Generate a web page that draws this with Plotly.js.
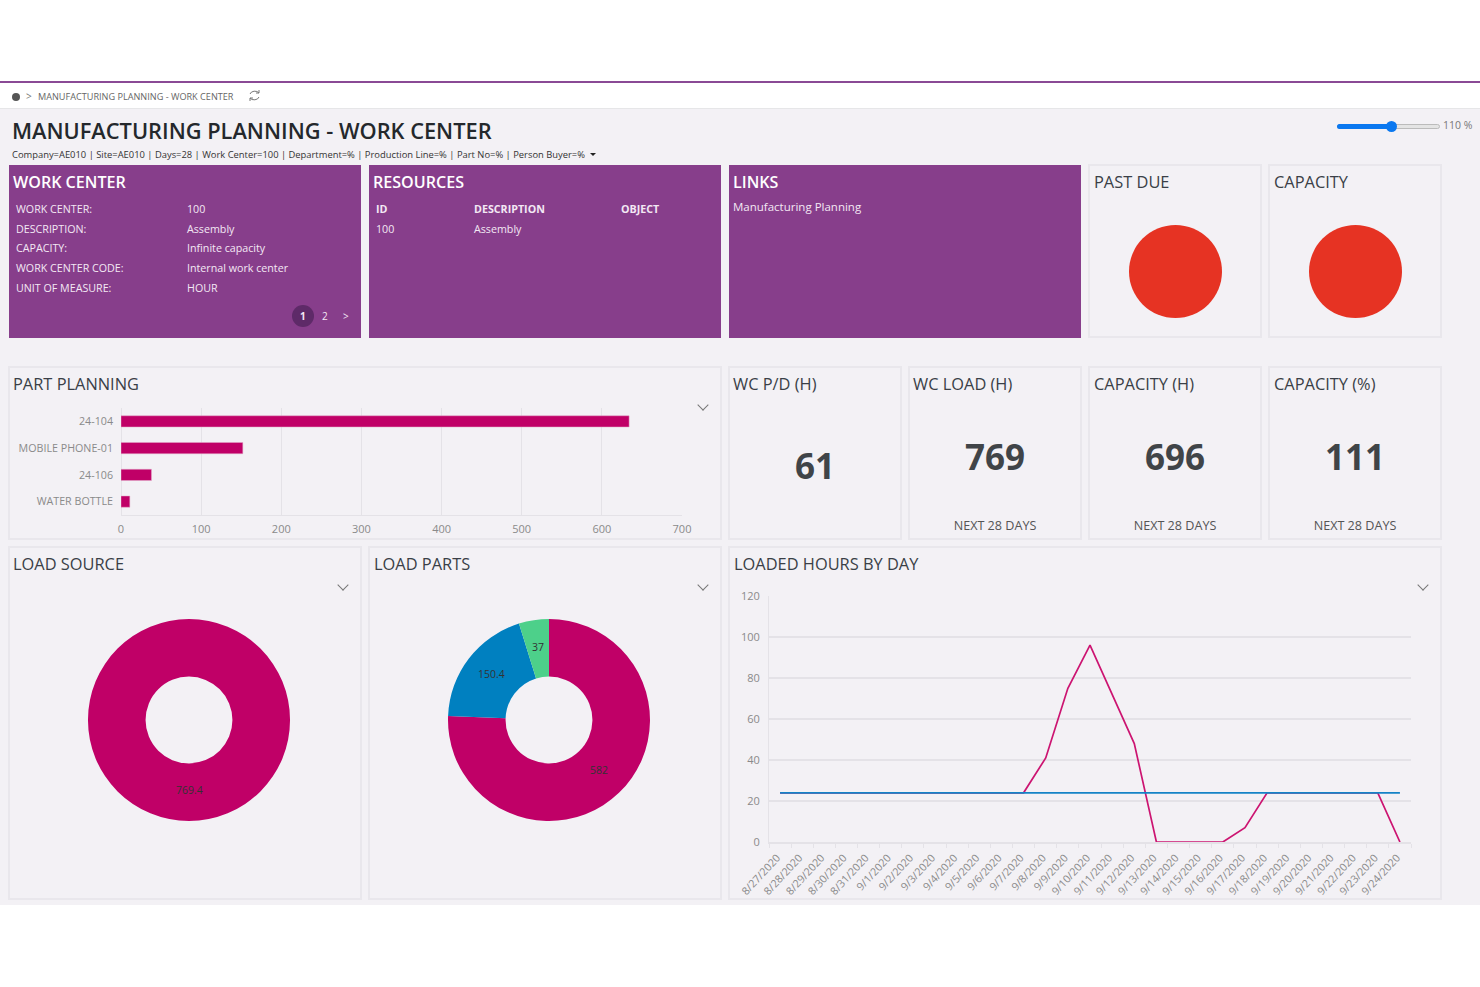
<!DOCTYPE html>
<html><head><meta charset="utf-8">
<script src="https://cdn.plot.ly/plotly-3.0.1.min.js"></script>
<style>
html,body{margin:0;padding:0;background:#fff;width:1480px;height:987px;overflow:hidden}
body{font-family:"Open Sans",sans-serif;color:#333;position:relative}
.abs{position:absolute}
.t{position:absolute;white-space:nowrap;line-height:1}
.panel{position:absolute;box-sizing:border-box;border:2px solid #e9e7ec;background:#f3f1f5}
.purple{position:absolute;background:#873e8b;box-sizing:border-box}
.ptitle{font-size:16.4px;color:#3a3f47}
.wtitle{font-size:16.1px;font-weight:600;color:#fff}
.w{color:#f3e8f4;font-size:10.7px}
.kpi{font-size:35px;font-weight:700;color:#404448;text-align:center}
.sub{font-size:12.6px;color:#555;text-align:center}
.dot{position:absolute;width:93px;height:93px;border-radius:50%;background:#e63323}
.chev{position:absolute;width:7px;height:7px;border-right:1px solid #777;border-bottom:1px solid #777;transform:rotate(45deg)}
.plot{position:absolute}
</style></head><body>
<div class="abs" style="left:0;top:81px;width:1480px;height:1.5px;background:#8a4a95"></div>
<div class="abs" style="left:0;top:108px;width:1480px;height:797px;background:#f3f1f5;border-top:1px solid #e6e6e8;box-sizing:border-box"></div>
<div class="abs" style="left:12px;top:92.5px;width:8px;height:8px;border-radius:50%;background:#555"></div>
<div class="t" style="left:26px;top:91px;font-size:10px;color:#777">&gt;</div>
<div class="t" style="left:38px;top:92px;font-size:9.15px;color:#666">MANUFACTURING PLANNING - WORK CENTER</div>
<svg class="abs" style="left:248px;top:89px" width="13" height="13" viewBox="0 0 13 13" fill="none" stroke="#777" stroke-width="1"><path d="M2 5 A5 4 0 0 1 11 4 M11 1 V4 H8 M11 8 A5 4 0 0 1 2 9 M2 12 V9 H5"/></svg>
<div class="t" style="left:12px;top:120px;font-size:21.8px;font-weight:600;color:#24282c">MANUFACTURING PLANNING - WORK CENTER</div>
<div class="t" style="left:12px;top:150px;font-size:9.38px;color:#333">Company=AE010 | Site=AE010 | Days=28 | Work Center=100 | Department=% | Production Line=% | Part No=% | Person Buyer=%</div>
<div class="abs" style="left:590px;top:153px;width:0;height:0;border-left:3px solid transparent;border-right:3px solid transparent;border-top:3.5px solid #222"></div>
<div class="abs" style="left:1337px;top:124px;width:103px;height:5px;border-radius:3px;background:#e4e4e4;border:1px solid #bbb;box-sizing:border-box"></div>
<div class="abs" style="left:1337px;top:124px;width:54px;height:5px;border-radius:3px;background:#0a78f0"></div>
<div class="abs" style="left:1386px;top:121px;width:11px;height:11px;border-radius:50%;background:#0a78f0"></div>
<div class="t" style="left:1443px;top:120px;font-size:10.5px;color:#777">110 %</div>

<div class="purple" style="left:8.5px;top:165px;width:352.5px;height:172.5px"></div>
<div class="purple" style="left:368.5px;top:165px;width:352.5px;height:172.5px"></div>
<div class="purple" style="left:728.5px;top:165px;width:352.5px;height:172.5px"></div>
<div class="panel" style="left:1088px;top:164px;width:174px;height:174px"></div>
<div class="panel" style="left:1268px;top:164px;width:174px;height:174px"></div>
<div class="abs" style="left:292px;top:305px;width:22px;height:22px;border-radius:50%;background:#5e2a68"></div>
<div class="t w" style="left:300px;top:311px;font-weight:700;font-size:10px">1</div>
<div class="t w" style="left:322px;top:311px;font-size:10px">2</div>
<div class="t w" style="left:343px;top:311px;font-size:10px">&gt;</div>
<div class="dot" style="left:1129px;top:225px"></div>
<div class="dot" style="left:1309px;top:225px"></div>

<div class="panel" style="left:8px;top:366px;width:714px;height:174px"></div>
<div class="panel" style="left:728px;top:366px;width:174px;height:174px"></div>
<div class="panel" style="left:908px;top:366px;width:174px;height:174px"></div>
<div class="panel" style="left:1088px;top:366px;width:174px;height:174px"></div>
<div class="panel" style="left:1268px;top:366px;width:174px;height:174px"></div>
<div class="panel" style="left:8px;top:546px;width:354px;height:354px"></div>
<div class="panel" style="left:368px;top:546px;width:354px;height:354px"></div>
<div class="panel" style="left:728px;top:546px;width:714px;height:354px"></div>
<div id="texts"></div>

<div id="bar" class="plot" style="left:10px;top:398px;width:710px;height:141px"></div>
<div id="pie1" class="plot" style="left:13.5px;top:600px;width:350px;height:240px"></div>
<div id="pie2" class="plot" style="left:374px;top:600px;width:350px;height:240px"></div>
<div id="line" class="plot" style="left:730px;top:580px;width:710px;height:319px"></div>
<div class="chev" style="left:699px;top:401px"></div>
<div class="chev" style="left:339px;top:581px"></div>
<div class="chev" style="left:699px;top:581px"></div>
<div class="chev" style="left:1419px;top:581px"></div>
<script>
const partNames=["24-104","MOBILE PHONE-01","24-106","WATER BOTTLE"];
const partHours=[634,152,38,11];
const sourceLabels=["Load"];
const sourceValues=[769.4];
const loadPartNames=["24-104","MOBILE PHONE-01","24-106"];
const loadPartValues=[582,150.4,37];
const dayLabels=["8/27/2020","8/28/2020","8/29/2020","8/30/2020","8/31/2020","9/1/2020","9/2/2020","9/3/2020","9/4/2020","9/5/2020","9/6/2020","9/7/2020","9/8/2020","9/9/2020","9/10/2020","9/11/2020","9/12/2020","9/13/2020","9/14/2020","9/15/2020","9/16/2020","9/17/2020","9/18/2020","9/19/2020","9/20/2020","9/21/2020","9/22/2020","9/23/2020","9/24/2020"];
const loadedHours=[24,24,24,24,24,24,24,24,24,24,24,24,41,75,96,72,48,0,0,0,0,7,24,24,24,24,24,24,0];
const capacityHours=[24,24,24,24,24,24,24,24,24,24,24,24,24,24,24,24,24,24,24,24,24,24,24,24,24,24,24,24,24];
const textItems=[
 [13,174,"WORK CENTER","wtitle"],[373,174,"RESOURCES","wtitle"],[733,174,"LINKS","wtitle"],
 [1094,174,"PAST DUE","ptitle"],[1274,174,"CAPACITY","ptitle"],
 [16,203.6,"WORK CENTER:","w"],[187,203.6,"100","w"],[16,223.5,"DESCRIPTION:","w"],[187,223.5,"Assembly","w"],
 [16,243,"CAPACITY:","w"],[187,243,"Infinite capacity","w"],[16,263,"WORK CENTER CODE:","w"],[187,263,"Internal work center","w"],
 [16,283,"UNIT OF MEASURE:","w"],[187,283,"HOUR","w"],
 [376,203.6,"ID","w b"],[474,203.6,"DESCRIPTION","w b"],[621,203.6,"OBJECT","w b"],[376,223.5,"100","w"],[474,223.5,"Assembly","w"],
 [733,201,"Manufacturing Planning","w l"],
 [13,376,"PART PLANNING","ptitle"],[733,376,"WC P/D (H)","ptitle"],[913,376,"WC LOAD (H)","ptitle"],
 [1094,376,"CAPACITY (H)","ptitle"],[1274,376,"CAPACITY (%)","ptitle"],
 [13,556,"LOAD SOURCE","ptitle"],[374,556,"LOAD PARTS","ptitle"],[734,556,"LOADED HOURS BY DAY","ptitle"]
];
const kpiItems=[[729,448,"61"],[909,439,"769"],[1089,439,"696"],[1269,439,"111"]];
const subItems=[[909,"NEXT 28 DAYS"],[1089,"NEXT 28 DAYS"],[1269,"NEXT 28 DAYS"]];
const box=document.getElementById("texts");
function add(html){box.insertAdjacentHTML("beforeend",html)}
textItems.forEach(([x,y,s,c])=>{
  const st=c.endsWith(" b")?";font-weight:700":(c.endsWith(" l")?";font-size:11.5px":"");
  add(`<div class="t ${c}" style="left:${x}px;top:${y}px${st}">${s}</div>`);
});
kpiItems.forEach(([x,y,s])=>add(`<div class="t kpi" style="left:${x}px;top:${y}px;width:172px">${s}</div>`));
subItems.forEach(([x,s])=>add(`<div class="t sub" style="left:${x}px;top:520px;width:172px">${s}</div>`));

const font={family:'"Open Sans",sans-serif',size:11,color:"#8a8a8a"};
const grid="#e4e2e7", cfg={displayModeBar:false,staticPlot:true};
const clear={paper_bgcolor:"rgba(0,0,0,0)",plot_bgcolor:"rgba(0,0,0,0)"};
const magenta="#c00067";

Plotly.newPlot("bar",[{type:"bar",orientation:"h",y:partNames,x:partHours,width:0.42,
  marker:{color:magenta,line:{color:"#e3a9c8",width:0.5}}}],
 Object.assign({width:710,height:141,margin:{l:111,r:38,t:10,b:24},font,showlegend:false,
  xaxis:{range:[0,700],tick0:0,dtick:100,showgrid:true,gridcolor:grid,gridwidth:1,zeroline:true,zerolinecolor:grid,
    showline:true,linecolor:grid,ticks:"",ticklabelstandoff:4,tickfont:{size:11,color:"#8a8a8a"}},
  yaxis:{autorange:"reversed",type:"category",tickson:"boundaries",ticks:"outside",ticklen:0,tickcolor:grid,showgrid:false,showline:false,zeroline:false,
    ticklabelstandoff:7,tickfont:{size:10.7,color:"#8a8a8a"}}},clear),cfg);

function donut(id,labels,values,colors){
 const W=350,H=240,mt=19,total=values.reduce((a,b)=>a+b,0),plotH=H-2*mt,R=plotH/2,hole=0.43,rMid=R*(1+hole)/2;
 let acc=0;
 const annotations=values.map(v=>{
   const mid=(acc+v/2)/total*2*Math.PI; acc+=v;
   return {xref:"paper",yref:"paper",x:0.5+rMid*Math.sin(mid)/W,y:0.5+rMid*Math.cos(mid)/plotH,text:String(v),showarrow:false,yshift:2,
     font:{size:10.5,color:"#333"},xanchor:"center",yanchor:"middle"};
 });
 Plotly.newPlot(id,[{type:"pie",labels,values,hole,sort:false,direction:"clockwise",rotation:0,
   marker:{colors,line:{width:0}},textinfo:"none"}],
  Object.assign({width:W,height:H,margin:{l:0,r:0,t:mt,b:mt},font,showlegend:false,annotations},clear),cfg);
}
donut("pie1",sourceLabels,sourceValues,[magenta]);
donut("pie2",loadPartNames,loadPartValues,[magenta,"#0080c0","#4dd08a"]);

Plotly.newPlot("line",[
 {type:"scatter",mode:"lines",x:dayLabels,y:loadedHours,line:{color:"#cc1471",width:1.7}},
 {type:"scatter",mode:"lines",x:dayLabels,y:capacityHours,line:{color:"#1583c6",width:1.7}}],
 Object.assign({width:710,height:319,margin:{l:39,r:29,t:16,b:57},font,showlegend:false,
  xaxis:{type:"category",range:[-0.5,28.5],tickmode:"array",tickvals:dayLabels,ticktext:dayLabels,tickson:"boundaries",tickangle:-47,ticks:"outside",ticklen:4,tickcolor:grid,
    showgrid:false,showline:true,linecolor:grid,linewidth:1.5,ticklabelstandoff:4,ticklabelshift:-3,tickfont:{size:10.7,color:"#8a8a8a"}},
  yaxis:{range:[0,120],tick0:0,dtick:20,gridcolor:grid,gridwidth:1.3,showline:true,linecolor:grid,zeroline:false,ticklabelstandoff:6,tickfont:{size:11,color:"#8a8a8a"}}},clear),cfg);
</script>
</body></html>
